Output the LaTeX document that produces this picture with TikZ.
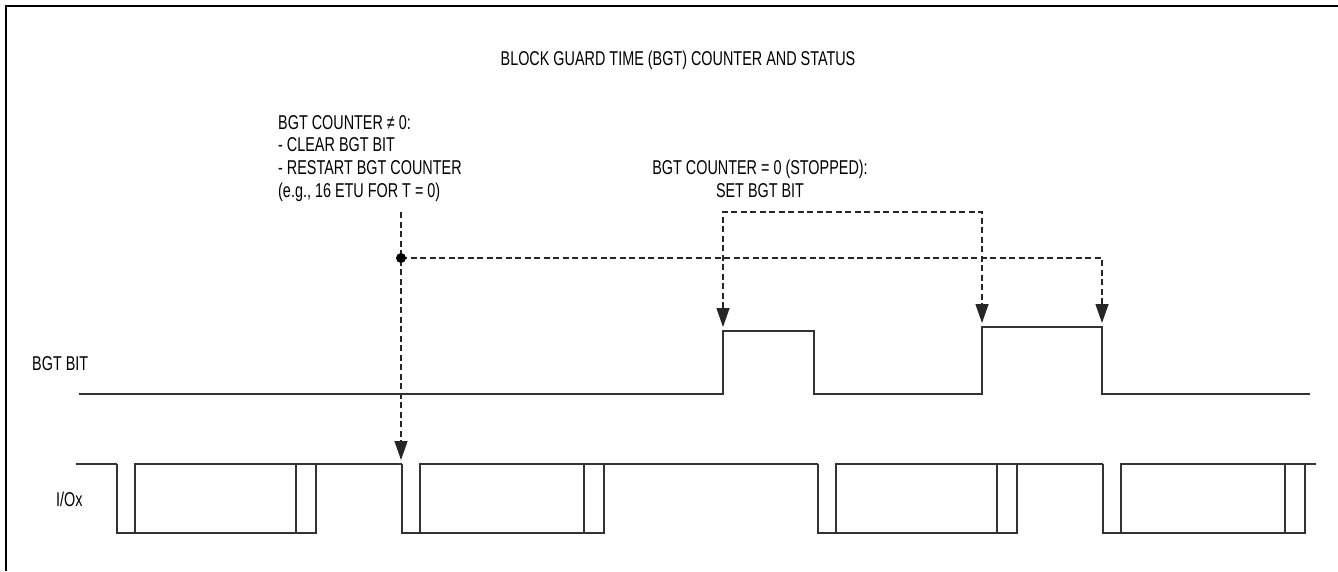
\documentclass[tikz,border=0pt]{standalone}
\usepackage{fontspec}
\setmainfont{Liberation Sans}[FakeStretch=0.72]
\usepackage{tikz}
\usetikzlibrary{arrows.meta}

\begin{document}
\begin{tikzpicture}[x=1pt,y=-1pt,
  wave/.style={line width=1.2pt,black!80},
  guard/.style={line width=1.3pt,black!85,dash pattern=on 6pt off 3.5pt},
  tip/.style={-{Triangle[length=19pt,width=13pt]}},
  txt/.style={font=\fontsize{20}{22.6}\selectfont,inner sep=0pt}]
 \useasboundingbox (0,0) rectangle (1338,571);
 \draw[line width=2pt] (6,571) -- (6,6) -- (1338,6);

 \node[txt,anchor=base] (title) at (678,65) {BLOCK GUARD TIME (BGT) COUNTER AND STATUS};
 \node[txt,anchor=base west,align=left] (clearbgt) at (278,197)
   {BGT COUNTER ≠ 0:\\- CLEAR BGT BIT\\- RESTART BGT COUNTER\\(e.g., 16 ETU FOR T = 0)};
 \node[txt,anchor=base,align=center] (setbgt) at (760,197)
   {BGT COUNTER = 0 (STOPPED):\\SET BGT BIT};
 \node[txt,anchor=base west] (bgtbit) at (32,370) {BGT BIT};
 \node[txt,anchor=base west] (iox) at (56,506) {I/Ox};

 \coordinate (dtop) at (401,212);
 \coordinate (dot) at (401,258);
 \coordinate (ioarr) at (401,460);
 \coordinate (endarr) at (1102,323);
 \coordinate (brl) at (723,212);
 \coordinate (brr) at (982,212);
 \coordinate (risea) at (723,327);
 \coordinate (riseb) at (982,323);

 \draw[guard,tip] (dtop) -- (ioarr);
 \draw[guard,tip] (dot) -| (endarr);
 \draw[guard,{Triangle[length=19pt,width=13pt]}-{Triangle[length=19pt,width=13pt]}]
   (risea) -- (brl) -- (brr) -- (riseb);
 \path[fill=black] (dot) circle (5pt);

 \draw[wave] (79,394) -- (723,394) -- (723,331) -- (814,331) -- (814,394)
   -- (982,394) -- (982,327) -- (1102,327) -- (1102,394) -- (1310,394);

 \draw[wave] (76,464) -- (117,464);
 \foreach \s/\e/\n in {117/316/402, 402/604/818, 818/1017/1103, 1103/1305/1316}{
   \draw[wave] (\s,464) -- (\s,533) -- (\e,533) -- (\e,464);
   \draw[wave] (\s+18,533) -- (\s+18,464) -- (\n,464);
   \draw[wave] (\e-20,533) -- (\e-20,464);
 }
\end{tikzpicture}
\end{document}
